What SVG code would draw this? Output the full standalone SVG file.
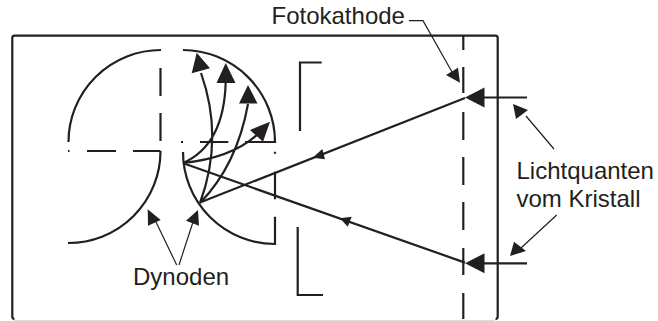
<svg xmlns="http://www.w3.org/2000/svg" width="658" height="321" viewBox="0 0 658 321">
<style>
text{font-family:"Liberation Sans",Arial,sans-serif;font-size:24px;fill:#231f20}
.t{fill:none;stroke:#231f20;stroke-width:2.2}
.l{fill:none;stroke:#231f20;stroke-width:1.2}
.h{fill:#231f20;stroke:none}
</style>
<rect width="658" height="321" fill="#fff"/>
<g id="gehaeuse"><path d="M14 320.500H495" fill="none" stroke="#ddd" stroke-width="1"/><path class="t" d="M14.500 319Q12.300 319 12.300 316.500V38Q12.300 35.700 14.500 35.700H495.500Q497.700 35.700 497.700 38V316.500Q497.700 319 495.500 319"/></g>
<g id="dynode-links-oben"><path class="t" d="M68.500 142A92.500 92 0 0 1 161 50"/></g>
<g id="dynode-links-unten"><path class="t" d="M160.500 151A92 92 0 0 1 68 243M160.500 151H133M116 151H87M69.500 151H68"/></g>
<g id="dynode-rechts-oben"><path class="t" d="M183 50A92.500 92 0 0 1 275 142H245M228.300 142H200M183 142H181"/></g>
<g id="dynode-rechts-unten"><path class="t" d="M183 152A92 92 0 0 0 275 244V216.700M275 199.300V171.700M275 153.700V151.700"/></g>
<g id="achse"><path class="t" d="M160.500 68V96M160.500 113V141"/></g>
<g id="gitter-oben"><path class="t" d="M300 131V62.500H321.700"/></g>
<g id="gitter-unten"><path class="t" d="M297.700 227V295H323"/></g>
<g id="fotokathode"><path class="t" d="M463.300 36V50M463.300 67V93M463.300 112V140M463.300 157V185M463.300 202V230M463.300 248V275M463.300 293V319"/></g>
<g id="verbinder">
<path class="t" d="M527 97.500H484M527 263.300H484M465 98L200 202.500M183.300 163.300L465 262.600"/>
<path class="h" d="M465 97.500L484.500 87.500V107.500ZM465 263.300L484.500 253.300V273.300Z"/>
<path class="h" d="M312.700 157.700L322.300 149L325 159.300ZM340 218.300L351.700 216.700L347.700 226.700Z"/>
<path class="t" d="M183 163Q224 145 225.700 82M183 163Q232 158 258 134M200 203Q237 165 248 104M200 203Q224 138 201 73"/>
<path class="h" d="M225.700 63L216.500 83H235.500ZM248 85L239 103.500H257.500ZM270 121.700L250 130L263 141.700ZM196.700 52.700L191.700 73.300L210 68.300Z"/>
<path class="l" d="M409 20.700H423L452 72M554 149L526 116M556.700 215L521 248M176.700 265L156 222M179 265L193 222"/>
<path class="h" d="M460 82.700L446 75L458 67.700ZM513 104L516 119L528 110ZM510 256L514 241.700L526 251ZM147.700 209.300L148 225.700L160.700 220ZM198 210L186 220.700L199 225.700Z"/>
</g>
<text x="271.500" y="24">Fotokathode</text>
<text x="516.500" y="179">Lichtquanten</text>
<text x="516.500" y="207">vom Kristall</text>
<text x="133" y="285">Dynoden</text>
</svg>
